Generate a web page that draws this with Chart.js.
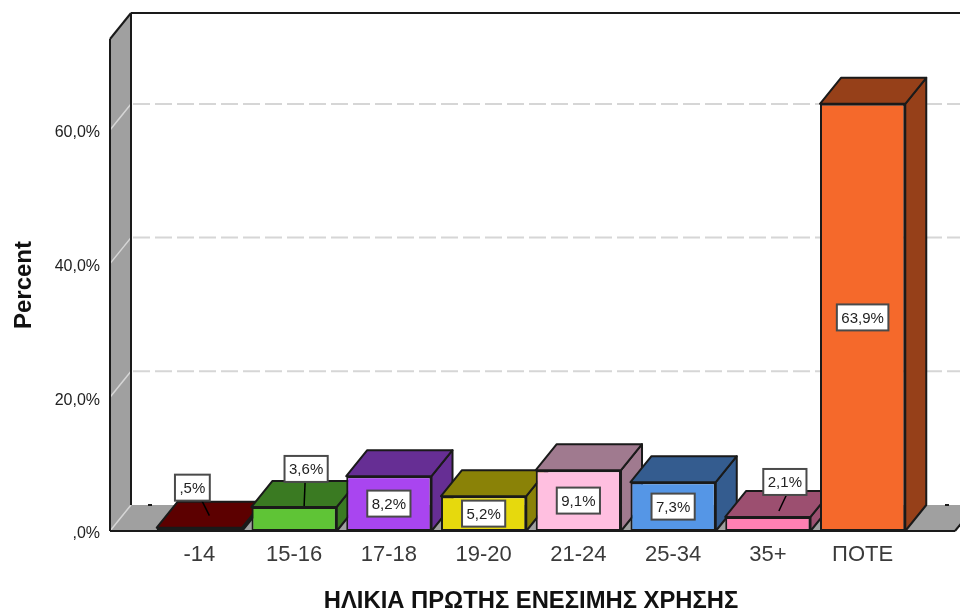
<!DOCTYPE html>
<html>
<head>
<meta charset="utf-8"/>
<title>Percent</title>
<script src="https://cdn.jsdelivr.net/npm/chart.js@4"></script>
<style>
  body { margin: 0; background: #fff; }
  canvas { display: block; }
</style>
</head>
<body>
<canvas id="myChart" width="960" height="611"></canvas>
<script>
const categories = ['-14', '15-16', '17-18', '19-20', '21-24', '25-34', '35+', 'ΠΟΤΕ'];
const percents = [0.5, 3.6, 8.2, 5.2, 9.1, 7.3, 2.1, 63.9];
const valueLabels = [',5%', '3,6%', '8,2%', '5,2%', '9,1%', '7,3%', '2,1%', '63,9%'];
const yTickLabels = { 0: ',0%', 20: '20,0%', 40: '40,0%', 60: '60,0%' };
const frontColors = ['#5e0000', '#5fc436', '#a945f0', '#e6d90d', '#ffbfe0', '#5596e6', '#ff80b3', '#f5692b'];
const depthColors = ['#5c0000', '#3a7a22', '#662e94', '#8a8207', '#a07a8f', '#345c8f', '#9c4f70', '#964019'];

const dark = '#1a1a1a';
const depthX = 21, depthY = -26;

function poly(ctx, pts, fill) {
  ctx.beginPath();
  pts.forEach(function (p, i) { i ? ctx.lineTo(p[0], p[1]) : ctx.moveTo(p[0], p[1]); });
  ctx.closePath();
  if (fill) { ctx.fillStyle = fill; ctx.fill(); }
  ctx.stroke();
}

function seg(ctx, x1, y1, x2, y2) {
  ctx.beginPath(); ctx.moveTo(x1, y1); ctx.lineTo(x2, y2); ctx.stroke();
}

// walls, floor and back grid of the 3d box
const box3d = {
  id: 'box3d',
  beforeDatasetsDraw(chart) {
    const ctx = chart.ctx, y = chart.scales.y;
    const left = chart.chartArea.left - 42, right = chart.chartArea.right + 45;
    const y0 = y.getPixelForValue(0), top = chart.chartArea.top;
    const backL = left + depthX, backTop = top + depthY, backY0 = y0 + depthY;
    ctx.save();
    ctx.lineJoin = 'round';
    // wall and floor fills
    ctx.fillStyle = '#a0a0a0';
    ctx.beginPath();
    ctx.moveTo(left, top); ctx.lineTo(backL, backTop); ctx.lineTo(backL, backY0);
    ctx.lineTo(right + depthX, backY0); ctx.lineTo(right, y0); ctx.lineTo(left, y0);
    ctx.closePath(); ctx.fill();
    [0, 20, 40, 60].forEach(function (v) {
      const py = y.getPixelForValue(v);
      ctx.strokeStyle = '#d6d6d6'; ctx.lineWidth = 1.5; ctx.setLineDash([]);
      seg(ctx, left, py, backL, py + depthY);
      if (v > 0) {
        ctx.lineWidth = 2; ctx.setLineDash([17, 5]);
        seg(ctx, backL + 2, py + depthY, right + depthX, py + depthY);
      }
    });
    ctx.setLineDash([]);
    ctx.strokeStyle = dark; ctx.lineWidth = 2;
    seg(ctx, left, y0, left, top);
    seg(ctx, left, top, backL, backTop);
    seg(ctx, backL, backTop, right + depthX, backTop);
    seg(ctx, backL, backTop, backL, backY0);
    seg(ctx, right, y0, right + depthX, backY0);
    // the back edge of the floor only shows as small ticks
    seg(ctx, backL + 17, backY0, backL + 21, backY0);
    seg(ctx, right - 10, backY0, right - 6, backY0);
    // side and top of each bar, the front comes from the bar element
    ctx.lineWidth = 2;
    chart.getDatasetMeta(0).data.forEach(function (bar, i) {
      const l = bar.x - bar.width / 2, r = bar.x + bar.width / 2;
      poly(ctx, [[r, bar.y], [r + depthX, bar.y + depthY], [r + depthX, bar.base + depthY], [r, bar.base]], depthColors[i]);
      poly(ctx, [[l, bar.y], [l + depthX, bar.y + depthY], [r + depthX, bar.y + depthY], [r, bar.y]], depthColors[i]);
    });
    seg(ctx, left, y0, right, y0);
    ctx.restore();
  },
  afterDatasetsDraw(chart, args, opts) {
    const ctx = chart.ctx;
    ctx.save();
    ctx.font = '15px "Liberation Sans"';
    ctx.textAlign = 'center'; ctx.textBaseline = 'middle';
    chart.getDatasetMeta(0).data.forEach(function (bar, i) {
      const lift = opts.labelShift[i];
      let cx = bar.x, cy = (bar.y + bar.base) / 2;
      if (lift) {
        // small bars: label sits above, tied to the top face with a short line
        cx = bar.x + lift[0]; cy = bar.y + lift[1];
        ctx.strokeStyle = '#000'; ctx.lineWidth = 1.5;
        seg(ctx, cx + lift[2], cy + 12, bar.x + lift[3], bar.y + lift[4]);
      }
      const w = ctx.measureText(valueLabels[i]).width + 9, h = 26;
      ctx.fillStyle = '#fff'; ctx.strokeStyle = '#4a4a4a'; ctx.lineWidth = 2;
      ctx.fillRect(cx - w / 2, cy - h / 2, w, h);
      ctx.strokeRect(cx - w / 2, cy - h / 2, w, h);
      ctx.fillStyle = '#222';
      ctx.fillText(valueLabels[i], cx, cy + 1);
    });
    ctx.restore();
  }
};

new Chart(document.getElementById('myChart'), {
  type: 'bar',
  data: {
    labels: categories,
    datasets: [{
      data: percents,
      backgroundColor: frontColors,
      borderColor: dark,
      borderWidth: 2,
      borderSkipped: false,
      barPercentage: 0.9,
      categoryPercentage: 1
    }]
  },
  plugins: [box3d],
  options: {
    responsive: false,
    animation: false,
    layout: { padding: { top: 39, right: 50 } },
    plugins: {
      legend: { display: false },
      tooltip: { enabled: false },
      box3d: {
        labelShift: [
          [-7, -40, 9, 10, -12],
          [12, -38, -1, 10, -1],
          null, null, null, null,
          [17, -35, 2, 11, -6],
          null
        ]
      }
    },
    scales: {
      x: {
        grid: { display: false, drawTicks: false },
        border: { display: false },
        ticks: { color: '#3a3a3a', font: { family: 'Liberation Sans', size: 22 }, padding: 11, maxRotation: 0, autoSkip: false },
        title: {
          display: true,
          text: 'ΗΛΙΚΙΑ ΠΡΩΤΗΣ ΕΝΕΣΙΜΗΣ ΧΡΗΣΗΣ',
          color: '#111',
          font: { family: 'Liberation Sans', size: 23.8, weight: 'bold' },
          padding: { top: 0, bottom: -5 }
        },
        afterFit(scale) { scale.height = 80; }
      },
      y: {
        min: 0,
        max: 73.6,
        afterBuildTicks(scale) { scale.ticks = Object.keys(yTickLabels).map(function (v) { return { value: +v }; }); },
        grid: { display: false, drawTicks: false },
        border: { display: false },
        ticks: {
          color: '#222',
          font: { family: 'Liberation Sans', size: 16 },
          padding: 52,
          labelOffset: 3,
          callback(v) { return yTickLabels[v]; }
        },
        title: {
          display: true,
          text: 'Percent',
          color: '#111',
          font: { family: 'Liberation Sans', size: 24, weight: 'bold' },
          padding: { top: 10, bottom: 0 }
        },
        afterFit(scale) { scale.width = 152; scale.paddingTop = 0; scale.paddingBottom = 0; }
      }
    }
  }
});
</script>
</body>
</html>
